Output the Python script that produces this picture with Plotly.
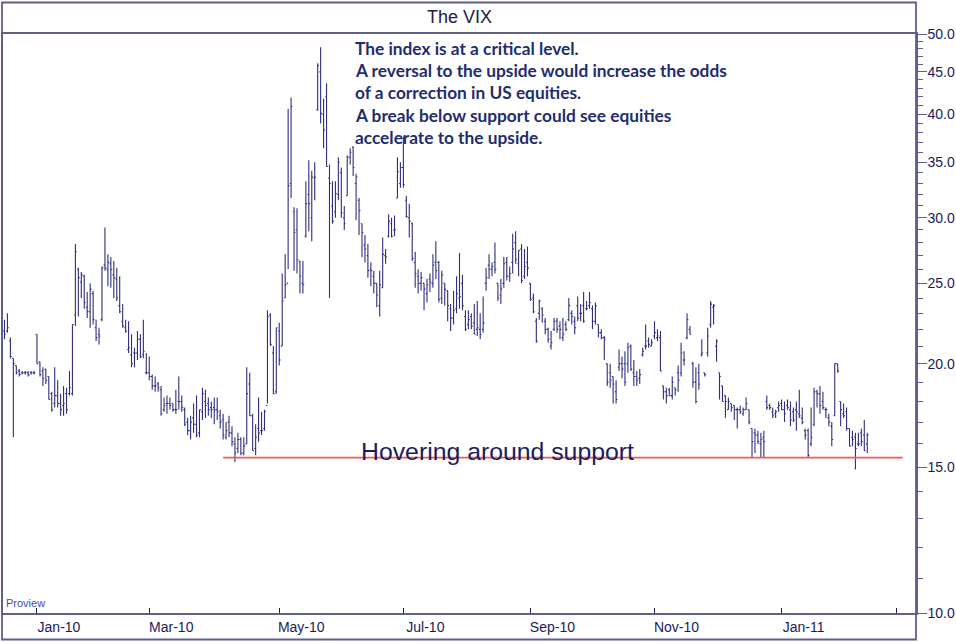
import pandas as pd
import plotly.graph_objects as go

# trading days: Dec 16 2009 .. Feb 14 2011 (weekdays minus exchange holidays)
holidays = ["2009-12-25", "2010-01-01", "2010-01-18", "2010-02-15", "2010-04-02",
            "2010-05-31", "2010-07-05", "2010-09-06", "2010-11-25", "2010-12-24",
            "2011-01-17", "2011-02-21"]

# VIX daily bars, one row per month
vix_open = [
    21.9, 21.9, 21.3, 20.3, 19.9, 19.6, 19.5, 19.5, 19.5, 19.5, 19.5,  # Dec-09
    21.7, 20.1, 19.6, 19.7, 19.3, 18.4, 17.9, 18.3, 17.9, 17.8, 18.4, 18.4, 18.4, 22.9, 26.0, 25.1, 25.5, 23.4, 23.1,  # Jan-10
    24.3, 22.1, 21.7, 22.6, 26.3, 26.0, 26.4, 25.6, 25.3, 23.5, 22.5, 22.1, 20.8, 20.5, 20.6, 20.6, 21.4, 20.5, 19.5,  # Feb-10
    19.5, 19.3, 18.8, 18.9, 18.6, 17.6, 17.9, 17.9, 17.9, 17.6, 18.0, 18.0, 17.6, 17.0, 16.6, 17.2, 16.9, 16.5, 17.5, 18.0, 17.9, 17.7, 17.7,  # Mar-10
    17.6, 17.3, 17.1, 16.3, 17.0, 16.5, 16.0, 15.8, 16.2, 15.6, 16.0, 18.9, 17.3, 15.8, 16.7, 16.6, 16.7, 17.8, 22.9, 20.6, 18.5,  # Apr-10
    21.9, 21.0, 24.0, 25.0, 33.0, 30.5, 29.0, 26.6, 25.0, 28.5, 32.0, 30.0, 33.5, 40.5, 45.0, 40.0, 42.0, 33.5, 31.0, 30.5,  # May-10
    32.0, 34.0, 30.0, 31.9, 35.5, 36.5, 33.0, 31.5, 29.5, 27.8, 27.0, 26.0, 25.5, 25.0, 23.5, 24.7, 27.0, 28.5, 29.5, 29.0, 31.7, 33.0,  # Jun-10
    34.5, 31.5, 30.0, 29.5, 26.5, 25.5, 25.0, 25.0, 24.3, 25.3, 25.0, 26.5, 26.5, 24.0, 25.0, 24.5, 23.3, 22.7, 23.3, 24.0, 25.0,  # Jul-10
    22.8, 22.3, 22.8, 22.4, 22.0, 22.0, 22.0, 25.0, 26.3, 26.0, 26.5, 25.0, 24.2, 25.0, 26.5, 25.5, 26.5, 28.0, 26.4, 27.5, 25.5, 26.5,  # Aug-10
    25.0, 24.0, 22.5, 23.0, 23.3, 22.5, 22.0, 21.0, 22.0, 22.5, 22.2, 21.5, 22.3, 22.6, 23.0, 22.5, 23.5, 23.0, 23.5, 23.3, 23.5,  # Sep-10
    23.3, 22.5, 22.3, 21.8, 21.5, 20.0, 19.5, 19.3, 18.5, 19.8, 20.0, 20.0, 20.0, 21.0, 19.5, 19.3, 19.2, 20.5, 21.0, 21.3, 21.0,  # Oct-10
    21.6, 21.5, 21.5, 18.8, 18.5, 18.6, 18.3, 18.7, 19.5, 19.5, 20.2, 21.5, 22.0, 20.0, 19.0, 19.5, 20.5, 19.5, 20.6, 22.3, 23.4,  # Nov-10
    21.0, 19.5, 18.8, 18.3, 17.6, 17.9, 17.8, 17.6, 17.6, 17.4, 17.6, 17.6, 16.7, 16.5, 16.4, 16.0, 16.3, 18.0, 17.8, 17.5, 17.4, 17.7,  # Dec-10
    17.9, 17.6, 17.8, 17.6, 17.5, 17.6, 17.4, 17.2, 16.6, 16.6, 16.0, 16.9, 18.5, 18.4, 18.0, 17.6, 17.2, 16.8, 17.3, 20.0,  # Jan-11
    18.0, 17.4, 17.5, 16.7, 16.3, 16.3, 16.0, 16.5, 16.4, 16.0,  # Feb-11
]
vix_high = [
    22.6, 23.0, 21.5, 20.3, 19.9, 19.7, 19.6, 19.6, 19.6, 19.6, 19.6,
    21.7, 20.1, 19.8, 19.7, 19.3, 18.5, 19.8, 19.1, 18.4, 18.8, 18.7, 19.6, 22.3, 27.9, 26.1, 25.8, 25.6, 24.4, 25.0,
    24.5, 22.6, 22.1, 26.2, 29.2, 27.1, 26.9, 26.6, 26.1, 25.5, 23.6, 22.6, 22.5, 21.7, 20.9, 21.9, 21.7, 22.6, 20.6,
    20.4, 19.4, 19.3, 19.0, 18.8, 18.2, 18.3, 18.2, 17.9, 18.6, 19.3, 18.3, 17.7, 17.2, 17.3, 17.9, 18.3, 17.6, 18.7, 18.6, 18.2, 18.0, 18.2,
    18.2, 17.6, 17.4, 17.0, 17.3, 16.8, 16.3, 16.5, 16.3, 16.3, 19.8, 19.5, 17.4, 16.9, 18.2, 17.5, 17.6, 23.2, 23.0, 21.0, 22.1,
    22.4, 25.7, 27.1, 40.6, 41.9, 30.9, 30.8, 26.6, 26.6, 33.2, 35.2, 34.2, 35.0, 46.1, 48.2, 41.8, 43.6, 34.8, 33.2, 33.2,
    35.5, 34.5, 31.0, 35.7, 36.4, 36.6, 33.9, 31.7, 29.5, 28.6, 27.9, 26.5, 25.9, 25.0, 25.9, 28.4, 27.5, 30.3, 30.0, 30.2, 35.5, 35.0,
    37.6, 31.9, 31.2, 29.6, 27.3, 26.0, 25.8, 25.0, 25.3, 25.7, 27.1, 28.1, 26.6, 25.9, 25.0, 24.5, 23.6, 24.5, 25.5, 27.2, 25.6,
    23.2, 23.2, 23.0, 23.6, 23.8, 23.0, 24.1, 26.1, 27.1, 26.5, 28.0, 25.0, 25.3, 26.9, 26.9, 26.2, 28.7, 28.9, 27.4, 27.9, 27.5, 27.7,
    25.0, 24.3, 22.7, 23.9, 23.4, 22.7, 22.1, 21.9, 22.7, 22.7, 22.5, 22.7, 22.5, 24.0, 23.2, 22.8, 24.1, 23.6, 24.4, 23.8, 24.4,
    23.5, 23.7, 22.3, 22.0, 21.6, 20.0, 20.0, 19.3, 19.1, 20.8, 20.4, 20.7, 21.2, 21.1, 20.2, 19.6, 19.7, 20.9, 22.3, 21.5, 21.4,
    22.5, 22.0, 21.9, 18.8, 18.7, 18.7, 19.3, 18.7, 19.9, 21.2, 20.7, 23.0, 22.2, 20.1, 19.8, 20.0, 21.4, 19.5, 22.1, 23.8, 23.6,
    21.4, 19.5, 18.8, 18.3, 18.2, 17.9, 17.8, 17.7, 17.8, 17.7, 18.2, 17.6, 16.7, 16.7, 16.6, 16.5, 16.6, 18.3, 17.9, 17.7, 17.6, 18.0,
    18.1, 18.0, 18.1, 18.0, 17.7, 18.0, 18.6, 17.7, 16.7, 16.7, 17.7, 18.7, 18.6, 18.8, 18.5, 17.7, 17.4, 17.0, 20.0, 20.0,
    18.0, 17.9, 17.7, 16.7, 16.6, 16.5, 16.5, 16.7, 17.1, 16.5,
]
vix_low = [
    21.4, 21.8, 20.3, 16.3, 19.4, 19.3, 19.4, 19.4, 19.3, 19.4, 19.4,
    20.0, 19.3, 18.8, 18.9, 18.1, 17.5, 17.7, 17.7, 17.3, 17.3, 17.4, 18.3, 18.3, 22.2, 22.8, 24.0, 23.3, 22.7, 22.1,
    22.3, 21.3, 21.1, 22.5, 25.9, 24.8, 24.7, 24.0, 23.8, 23.0, 22.1, 21.8, 20.6, 19.8, 19.8, 20.2, 20.3, 20.3, 19.4,
    19.1, 18.6, 18.5, 18.5, 17.3, 17.5, 17.4, 17.6, 17.5, 17.4, 17.6, 17.5, 16.8, 16.4, 16.2, 16.5, 16.3, 16.3, 17.1, 17.2, 17.3, 17.2, 16.9,
    17.1, 16.7, 16.2, 16.2, 16.3, 15.9, 15.2, 15.6, 15.5, 15.5, 16.0, 17.3, 15.7, 15.5, 16.1, 16.4, 16.6, 17.9, 21.0, 18.4, 18.4,
    19.9, 21.0, 24.0, 26.0, 31.7, 25.9, 25.7, 24.3, 24.3, 28.4, 28.9, 28.1, 31.5, 40.4, 39.0, 36.4, 34.6, 24.0, 29.5, 30.0,
    31.5, 30.0, 29.0, 31.9, 34.8, 33.7, 29.8, 28.6, 26.9, 26.5, 25.4, 24.8, 24.3, 23.4, 22.8, 24.7, 26.4, 28.4, 28.4, 28.5, 31.7, 32.6,
    32.6, 30.0, 28.4, 26.6, 24.7, 24.3, 24.5, 23.2, 23.7, 24.4, 24.7, 25.3, 23.7, 23.6, 23.5, 22.5, 21.9, 22.3, 23.0, 23.3, 23.2,
    21.9, 22.0, 22.0, 21.7, 21.6, 21.4, 21.8, 24.5, 25.3, 25.5, 25.7, 23.8, 23.6, 24.7, 25.2, 25.1, 25.7, 26.4, 25.5, 25.0, 25.3, 25.5,
    23.8, 23.0, 21.2, 22.6, 22.4, 21.7, 21.2, 20.8, 21.9, 21.8, 21.4, 21.3, 21.9, 22.5, 22.3, 21.7, 22.5, 22.5, 22.4, 23.2, 23.3,
    22.0, 22.3, 21.5, 21.4, 20.2, 18.8, 18.7, 17.9, 17.9, 19.6, 19.2, 18.8, 19.5, 19.6, 18.8, 18.8, 18.9, 20.4, 20.8, 20.9, 21.0,
    21.4, 21.3, 19.6, 18.1, 17.9, 18.3, 18.1, 18.3, 18.5, 19.3, 19.9, 21.4, 21.7, 18.7, 17.9, 18.6, 20.4, 19.3, 20.4, 22.1, 22.3,
    20.1, 18.1, 18.0, 17.2, 17.6, 17.5, 17.1, 16.7, 17.4, 17.3, 17.6, 16.9, 15.4, 15.6, 16.0, 15.4, 15.4, 17.6, 17.6, 17.2, 17.2, 17.5,
    17.6, 17.0, 17.6, 16.8, 17.0, 16.6, 17.2, 16.9, 16.2, 15.4, 15.9, 16.8, 17.7, 17.4, 17.6, 17.2, 16.8, 15.9, 17.3, 19.5,
    16.8, 17.2, 16.6, 15.9, 15.9, 14.9, 15.9, 15.9, 15.7, 15.6,
]
vix_close = [
    21.7, 22.1, 20.4, 20.0, 19.5, 19.4, 19.5, 19.5, 19.4, 19.5, 19.5,
    20.0, 19.4, 19.2, 19.1, 18.1, 17.6, 18.3, 17.9, 17.6, 17.9, 17.6, 18.7, 22.3, 27.3, 25.4, 25.6, 23.7, 23.1, 24.6,
    22.6, 21.5, 21.6, 26.1, 26.1, 26.5, 26.0, 25.4, 24.0, 23.1, 22.2, 21.9, 20.9, 20.0, 20.6, 21.4, 20.4, 20.7, 19.5,
    19.3, 18.8, 18.8, 18.7, 17.4, 17.8, 17.9, 17.8, 17.6, 17.6, 18.0, 17.7, 16.9, 16.6, 17.0, 16.9, 16.4, 17.6, 18.4, 17.8, 17.6, 17.6, 17.6,
    17.5, 17.0, 16.4, 16.6, 16.5, 16.1, 15.6, 16.2, 15.6, 15.9, 18.4, 17.3, 15.7, 16.3, 16.5, 16.6, 17.5, 22.8, 21.1, 18.4, 22.1,
    20.2, 23.8, 24.9, 32.8, 40.9, 28.8, 26.7, 25.5, 24.9, 31.2, 31.2, 33.6, 33.6, 45.8, 40.1, 38.3, 34.6, 33.0, 29.7, 32.1,
    35.0, 30.4, 29.5, 35.5, 36.0, 34.5, 33.6, 30.6, 28.8, 27.5, 25.9, 25.9, 25.0, 24.2, 24.9, 27.1, 26.9, 29.7, 28.5, 29.0, 34.1, 34.5,
    32.9, 30.1, 29.7, 26.8, 25.7, 25.0, 25.4, 24.6, 24.9, 25.1, 26.3, 25.9, 23.9, 25.6, 24.6, 23.5, 22.7, 23.2, 24.3, 24.1, 23.5,
    22.0, 22.6, 22.2, 21.7, 22.1, 21.7, 22.4, 25.4, 26.0, 26.2, 26.0, 24.0, 24.6, 26.4, 25.5, 25.7, 27.5, 26.7, 27.4, 25.2, 26.2, 26.1,
    23.9, 23.1, 21.3, 23.8, 22.9, 22.0, 21.4, 21.2, 22.5, 22.0, 22.0, 21.7, 22.0, 23.5, 22.8, 22.1, 22.7, 23.0, 22.5, 23.3, 23.7,
    22.5, 23.5, 21.8, 21.5, 21.4, 19.0, 19.1, 18.9, 18.1, 20.0, 19.7, 19.0, 20.9, 19.7, 19.3, 19.1, 19.4, 20.7, 21.0, 21.1, 21.2,
    21.8, 21.6, 19.6, 18.5, 18.3, 18.3, 19.0, 18.6, 19.1, 20.6, 20.2, 22.6, 21.7, 19.0, 18.0, 18.9, 20.6, 19.4, 21.6, 23.6, 23.5,
    21.3, 19.3, 18.0, 18.0, 18.0, 17.7, 17.6, 17.6, 17.5, 17.6, 17.9, 17.0, 16.1, 16.4, 16.1, 16.2, 16.1, 17.7, 17.7, 17.3, 17.5, 17.8,
    17.6, 17.4, 17.7, 17.1, 17.1, 17.5, 17.3, 17.0, 16.4, 15.5, 16.3, 18.5, 18.4, 17.8, 17.7, 17.6, 17.0, 16.2, 20.0, 19.6,
    17.6, 17.3, 16.7, 15.9, 16.2, 15.8, 16.0, 16.1, 15.7, 16.4,
]

# y ticks and x ticks
y_ticks = [10, 15, 20, 25, 30, 35, 40, 45, 50]
y_minor = [v for v in range(11, 50) if v % 5 != 0]
tick_months = ["2010-01", "2010-03", "2010-05", "2010-07", "2010-09", "2010-11", "2011-01", "2011-03"]
tick_labels = ["Jan-10", "Mar-10", "May-10", "Jul-10", "Sep-10", "Nov-10", "Jan-11", ""]

support_level = 15.4
support_from, support_to = "2010-04-06", "2011-03-03"

notes = ["The index is at a critical level.",
         "A reversal to the upside would increase the odds",
         "of a correction in US equities.",
         "A break below support could see equities",
         "accelerate to the upside."]

hol = pd.to_datetime(holidays)
days = pd.bdate_range("2009-12-16", "2011-02-14")
days = days[~days.isin(hol)]
assert len(days) == len(vix_open) == len(vix_high) == len(vix_low) == len(vix_close), (
    len(days), len(vix_open), len(vix_high), len(vix_low), len(vix_close))

axis_days = pd.bdate_range("2009-12-16", "2011-03-10")
axis_days = axis_days[~axis_days.isin(hol)]
first_days = pd.Series(axis_days).groupby(axis_days.strftime("%Y-%m")).min()
tickvals = [first_days[m] for m in tick_months]

navy = "#2f2f7c"
frame = "#5f5f8e"
txt = "#1a1a5a"

fig = go.Figure()
fig.add_trace(go.Ohlc(
    x=days, open=vix_open, high=vix_high, low=vix_low, close=vix_close,
    increasing=dict(line=dict(color=navy, width=1.1)),
    decreasing=dict(line=dict(color=navy, width=1.1)),
    tickwidth=0.45, showlegend=False, hoverinfo="skip"))
fig.add_trace(go.Scatter(
    x=[support_from, support_to], y=[support_level, support_level],
    mode="lines", line=dict(color="#f05a5a", width=1.6),
    showlegend=False, hoverinfo="skip"))

W, H = 956, 642
L, R, T, B = 3, 40, 34, 29
pw, ph = W - L - R, H - T - B

def px(x):
    return (x - L) / pw

def py(y):
    return (H - B - y) / ph

# outer frame around chart + title band
fig.add_shape(type="rect", xref="paper", yref="paper",
              x0=px(2), x1=1.0, y0=py(639.5), y1=py(2.5),
              line=dict(color=frame, width=1.8), layer="above")

fig.add_annotation(text="The VIX", xref="paper", yref="paper", x=0.5, y=py(17),
                   xanchor="center", yanchor="middle", showarrow=False,
                   font=dict(family="Liberation Sans, Arial", size=18, color="#202040"))

line_y = [49, 71, 93, 115.5, 137.5]
for t, yy in zip(notes, line_y):
    fig.add_annotation(text="<b>" + t + "</b>", xref="paper", yref="paper",
                       x=px(353), y=py(yy), xanchor="left", yanchor="middle", showarrow=False,
                       font=dict(family="Lato, Open Sans, sans-serif", size=17.3, color="#1f2d6e"))

fig.add_annotation(text="Hovering around support", xref="paper", yref="paper",
                   x=px(497), y=py(451), xanchor="center", yanchor="middle", showarrow=False,
                   font=dict(family="Liberation Sans, Arial", size=24.8, color="#1c1c5c"))
fig.add_annotation(text="Proview", xref="paper", yref="paper",
                   x=px(4), y=py(603), xanchor="left", yanchor="middle", showarrow=False,
                   font=dict(family="Liberation Sans, Arial", size=11, color="#4545c8"))

fig.update_layout(
    width=W, height=H,
    margin=dict(l=L, r=R, t=T, b=B, autoexpand=False),
    paper_bgcolor="white", plot_bgcolor="white",
    xaxis=dict(
        type="date",
        range=["2009-12-15 12:00", "2011-03-09 12:00"],
        rangebreaks=[dict(bounds=["sat", "mon"]), dict(values=holidays)],
        rangeslider=dict(visible=False),
        tickmode="array", tickvals=tickvals, ticktext=tick_labels,
        ticks="inside", ticklen=5, tickcolor=txt, tickwidth=1,
        ticklabelshift=22,
        showgrid=False, zeroline=False,
        showline=True, linecolor=frame, linewidth=1.5, mirror=True,
        tickfont=dict(family="Liberation Sans, Arial", size=14, color=txt),
    ),
    yaxis=dict(
        type="log", side="right",
        range=[1, 1.69897],
        tickmode="array", tickvals=y_ticks, ticktext=["%.1f" % v for v in y_ticks],
        ticks="outside", ticklen=9, tickcolor=frame, tickwidth=1,
        ticklabelstandoff=-2,
        minor=dict(tickmode="array", tickvals=y_minor, ticks="outside", ticklen=5,
                   tickcolor=frame, showgrid=False),
        showgrid=False, zeroline=False,
        showline=True, linecolor=frame, linewidth=1.5, mirror=True,
        tickfont=dict(family="Liberation Sans, Arial", size=14, color=txt),
    ),
)

# page body has a default 8px margin; drop it so the figure sits at the window corner
fig.write_html("out.html", config={"displayModeBar": False},
               post_script="document.body.style.margin='0';")
